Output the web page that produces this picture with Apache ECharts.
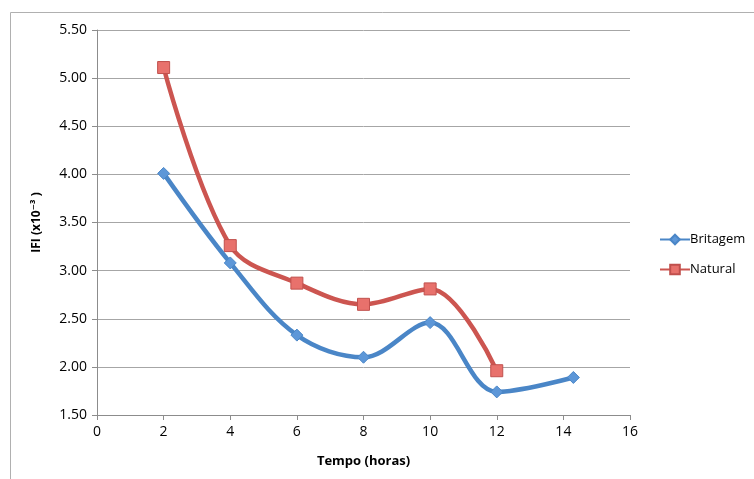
<!DOCTYPE html>
<html>
<head>
<meta charset="utf-8">
<script src="https://cdn.jsdelivr.net/npm/echarts@6/dist/echarts.min.js"></script>
<style>
  html, body { margin: 0; padding: 0; background: #fff; }
  #chart { width: 754px; height: 479px; }
</style>
</head>
<body>
<div id="chart"></div>
<script>
// Tempo (horas) vs IFI (x10^-3)
const britagemX = [2, 4, 6, 8, 10, 12, 14.3];
const britagemY = [4.01, 3.08, 2.33, 2.10, 2.46, 1.74, 1.89];
const naturalX = [2, 4, 6, 8, 10, 12];
const naturalY = [5.11, 3.26, 2.87, 2.65, 2.81, 1.96];
const seriesNames = ['Britagem', 'Natural'];

const pairs = (xs, ys) => xs.map((x, i) => [x, ys[i]]);

const chart = echarts.init(document.getElementById('chart'), null, { renderer: 'canvas' });
const font = '"Open Sans", "Liberation Sans", "DejaVu Sans", sans-serif';

chart.setOption({
  animation: false,
  textStyle: { fontFamily: font },
  graphic: [{
    type: 'rect',
    shape: { x: 10.5, y: 12.5, width: 760, height: 480 },
    style: { fill: 'none', stroke: '#b0b0b0', lineWidth: 1 },
    silent: true
  }],
  grid: { left: 97, right: 124, top: 30, bottom: 64 },
  legend: {
    orient: 'vertical',
    left: 654,
    top: 228,
    itemGap: 17,
    itemWidth: 30,
    itemHeight: 12,
    textStyle: { fontSize: 13, color: '#000', fontFamily: font, padding: [0, 0, 0, -5] },
    data: seriesNames
  },
  xAxis: {
    type: 'value',
    min: 0, max: 16, interval: 2,
    name: 'Tempo (horas)',
    nameLocation: 'middle',
    nameGap: 40,
    nameTextStyle: { fontSize: 13, fontWeight: 'bold', color: '#000', fontFamily: font },
    axisLine: { show: true, lineStyle: { color: '#8c8c8c' } },
    axisTick: { show: true, length: 5, lineStyle: { color: '#8c8c8c' } },
    axisLabel: { fontSize: 14, color: '#000', margin: 10, fontFamily: font },
    splitLine: { show: false }
  },
  yAxis: {
    type: 'value',
    min: 1.5, max: 5.5, interval: 0.5,
    name: 'IFI (x10\u207B\u00B3 )',
    nameLocation: 'middle',
    nameGap: 54,
    nameRotate: 90,
    nameTextStyle: { fontSize: 12, fontWeight: 'bold', color: '#000', fontFamily: font },
    axisLine: { show: true, lineStyle: { color: '#8c8c8c' } },
    axisTick: { show: true, length: 5, inside: false, lineStyle: { color: '#8c8c8c' } },
    axisLabel: {
      fontSize: 14, color: '#000', margin: 10, fontFamily: font,
      formatter: v => v.toFixed(2)
    },
    splitLine: { show: true, lineStyle: { color: '#a6a6a6', width: 1 } }
  },
  series: [
    {
      name: seriesNames[0],
      type: 'line',
      smooth: 0.35,
      data: pairs(britagemX, britagemY),
      symbol: 'diamond',
      symbolSize: 12,
      lineStyle: { color: '#4a86c7', width: 4.5 },
      itemStyle: { color: '#5d97d8', borderColor: '#4a86c7', borderWidth: 1 },
      z: 3
    },
    {
      name: seriesNames[1],
      type: 'line',
      smooth: 0.35,
      data: pairs(naturalX, naturalY),
      symbol: 'rect',
      symbolSize: 12,
      lineStyle: { color: '#cc5550', width: 4.5 },
      itemStyle: { color: '#e8716c', borderColor: '#c0504d', borderWidth: 1 },
      z: 2
    }
  ]
});
</script>
</body>
</html>
